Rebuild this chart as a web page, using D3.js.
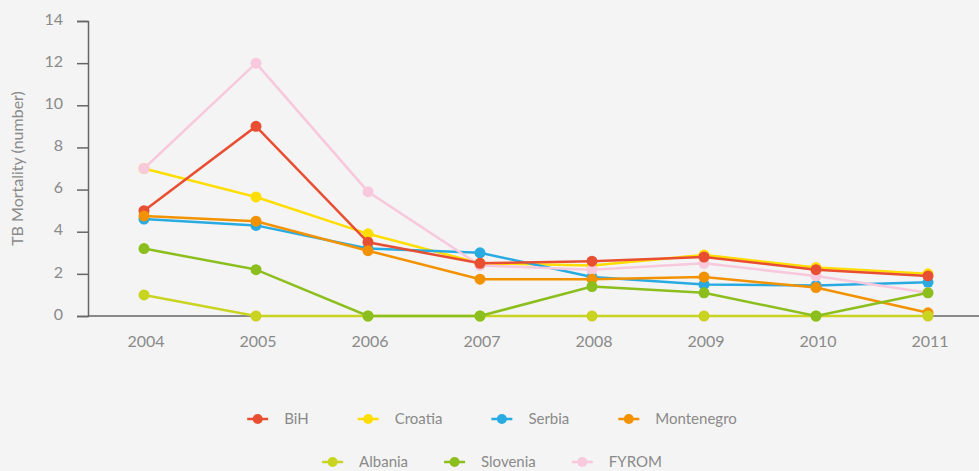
<!DOCTYPE html>
<html>
<head>
<meta charset="utf-8">
<script src="https://cdn.jsdelivr.net/npm/d3@7"></script>
<style>
    body { margin: 0; background: #f4f4f4; }
    text { font-family: Lato, 'Noto Sans', sans-serif; fill: #8a8a8a; }
</style>
</head>
<body>
<script>
const width = 979;
const height = 471;

const years = ['2004', '2005', '2006', '2007', '2008', '2009', '2010', '2011'];
const yTicks = [0, 2, 4, 6, 8, 10, 12, 14];

const croatia = [7, 5.65, 3.9, 2.5, 2.4, 2.9, 2.3, 2.0];
const serbia = [4.6, 4.3, 3.2, 3.0, 1.85, 1.5, 1.45, 1.6];
const fyrom = [7, 12, 5.9, 2.4, 2.2, 2.5, 1.9, 1.1];
const bih = [5, 9, 3.5, 2.5, 2.6, 2.8, 2.2, 1.9];
const montenegro = [4.75, 4.5, 3.1, 1.75, 1.75, 1.85, 1.35, 0.15];
const albania = [1, 0, 0, 0, 0, 0, 0, 0];
const slovenia = [3.2, 2.2, 0, 0, 1.4, 1.1, 0, 1.1];

// drawing order (later on top)
const series = [
    { name: 'Croatia', values: croatia, color: '#ffdd00' },
    { name: 'Serbia', values: serbia, color: '#29abe2' },
    { name: 'FYROM', values: fyrom, color: '#f8c8dc' },
    { name: 'BiH', values: bih, color: '#e84e31' },
    { name: 'Montenegro', values: montenegro, color: '#f39200' },
    { name: 'Albania', values: albania, color: '#c9d421' },
    { name: 'Slovenia', values: slovenia, color: '#8cbe1e' }
];

const legendRows = [
    ['BiH', 'Croatia', 'Serbia', 'Montenegro'],
    ['Albania', 'Slovenia', 'FYROM']
];

const margin = { top: 21, right: 0, bottom: 155, left: 88 };

const svg = d3.select('body')
    .append('svg')
    .attr('width', width)
    .attr('height', height);

const x = d3.scalePoint()
    .domain(years)
    .range([margin.left, margin.left + 112 * years.length])
    .padding(0.5);

const y = d3.scaleLinear()
    .domain([0, 14])
    .range([316, margin.top]);

// axes
const yAxis = svg.append('g')
    .attr('transform', `translate(${margin.left},0)`)
    .call(d3.axisLeft(y).tickValues(yTicks).tickSize(11).tickPadding(14));
yAxis.select('.domain').attr('stroke', '#666').attr('stroke-width', 1.5);
yAxis.selectAll('.tick line').attr('stroke', '#666').attr('stroke-width', 1.5);
yAxis.selectAll('.tick text')
    .attr('dy', '0.2em')
    .style('font-size', '16px')
    .style('fill', '#8a8a8a');

svg.append('line')
    .attr('x1', margin.left)
    .attr('x2', width)
    .attr('y1', y(0))
    .attr('y2', y(0))
    .attr('stroke', '#666')
    .attr('stroke-width', 1.5);

svg.append('g')
    .selectAll('text')
    .data(years)
    .join('text')
    .attr('x', d => x(d) + 2)
    .attr('y', y(0) + 31)
    .attr('text-anchor', 'middle')
    .style('font-size', '16px')
    .text(d => d);

svg.append('text')
    .attr('transform', `translate(23, ${y(7)}) rotate(-90)`)
    .attr('text-anchor', 'middle')
    .style('font-size', '16px')
    .text('TB Mortality (number)');

// lines + markers
const line = d3.line()
    .x((d, i) => x(years[i]))
    .y(d => y(d));

series.forEach(s => {
    const g = svg.append('g');
    g.append('path')
        .attr('d', line(s.values))
        .attr('fill', 'none')
        .attr('stroke', s.color)
        .attr('stroke-width', 2.5);
    g.selectAll('circle')
        .data(s.values)
        .join('circle')
        .attr('cx', (d, i) => x(years[i]))
        .attr('cy', d => y(d))
        .attr('r', 5.5)
        .attr('fill', s.color);
});

// legend
const colorOf = name => series.find(s => s.name === name).color;
const rowY = [419, 462];
const rowGap = [49, 36];

legendRows.forEach((row, r) => {
    const g = svg.append('g');
    let cx = 0;
    row.forEach(name => {
        const item = g.append('g').attr('transform', `translate(${cx},${rowY[r]})`);
        item.append('line')
            .attr('x1', 0).attr('x2', 21)
            .attr('stroke', colorOf(name))
            .attr('stroke-width', 2.5);
        item.append('circle')
            .attr('cx', 10.5)
            .attr('r', 5)
            .attr('fill', colorOf(name));
        const t = item.append('text')
            .attr('x', 37)
            .attr('dy', '0.35em')
            .style('font-size', '15px')
            .text(name);
        cx += 37 + t.node().getComputedTextLength() + rowGap[r];
    });
    const total = cx - rowGap[r];
    g.attr('transform', `translate(${492 - total / 2},0)`);
});
</script>
</body>
</html>
